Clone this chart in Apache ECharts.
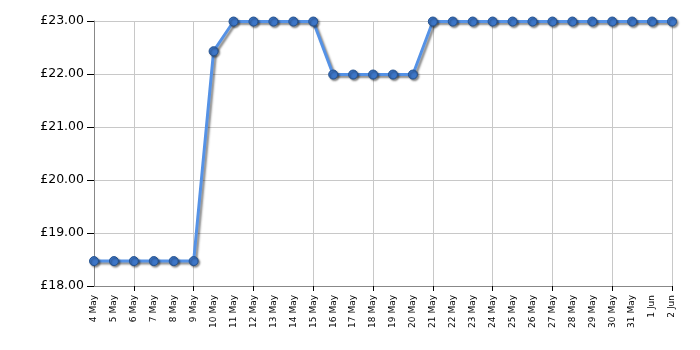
<!DOCTYPE html>
<html><head><meta charset="utf-8">
<script src="https://cdn.jsdelivr.net/npm/echarts@6/dist/echarts.min.js"></script>
<style>html,body{margin:0;padding:0;background:#fff}#c{width:700px;height:350px}</style>
</head><body><div id="c"></div>
<script>
const categories = ["4 May","5 May","6 May","7 May","8 May","9 May","10 May","11 May","12 May","13 May","14 May","15 May","16 May","17 May","18 May","19 May","20 May","21 May","22 May","23 May","24 May","25 May","26 May","27 May","28 May","29 May","30 May","31 May","1 Jun","2 Jun"];
const prices = [18.47,18.47,18.47,18.47,18.47,18.47,22.43,22.99,22.99,22.99,22.99,22.99,21.99,21.99,21.99,21.99,21.99,22.99,22.99,22.99,22.99,22.99,22.99,22.99,22.99,22.99,22.99,22.99,22.99,22.99];
const yMin = 18, yMax = 23, yStep = 1;

const tickEvery3 = function(i){ return (i - 2) % 3 === 0; };
const chart = echarts.init(document.getElementById('c'), null, {renderer:'canvas'});
chart.setOption({
  animation:false,
  grid:{left:94, right:28, top:21, bottom:64, containLabel:false},
  xAxis:{
    type:'category', data:categories, boundaryGap:false,
    axisLine:{lineStyle:{color:'#888', width:1}},
    axisTick:{show:true, interval:tickEvery3, length:5, lineStyle:{color:'#000'}},
    axisLabel:{interval:0, rotate:90, fontFamily:'"DejaVu Sans", Verdana, sans-serif', fontSize:9, color:'#000', margin:9},
    splitLine:{show:true, interval:tickEvery3, lineStyle:{color:'#c8c8c8', width:1}}
  },
  yAxis:{
    type:'value', min:yMin, max:yMax, interval:yStep,
    axisLine:{show:true, lineStyle:{color:'#888', width:1}},
    axisTick:{show:true, length:7, lineStyle:{color:'#000'}},
    axisLabel:{formatter:v=>'£'+v.toFixed(2), fontFamily:'"DejaVu Sans", Verdana, sans-serif', fontSize:12.5, color:'#000', margin:10},
    splitLine:{show:true, lineStyle:{color:'#c8c8c8', width:1}}
  },
  series:[{
    type:'line', data:prices, symbol:'circle', symbolSize:9,
    lineStyle:{color:'#5592e6', width:3, shadowColor:'rgba(0,0,0,0.45)', shadowBlur:2, shadowOffsetX:2, shadowOffsetY:2},
    itemStyle:{color:'#3d76c8', borderColor:'#24528f', borderWidth:1, shadowColor:'rgba(0,0,0,0.45)', shadowBlur:2, shadowOffsetX:1.5, shadowOffsetY:1.5}
  }]
});
</script></body></html>
